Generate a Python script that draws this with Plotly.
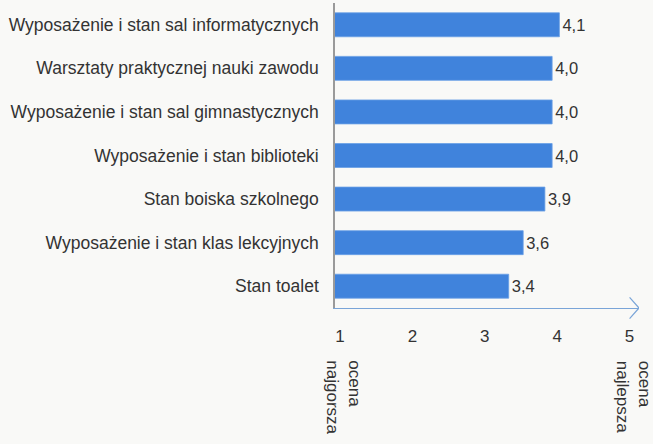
import plotly.graph_objects as go

categories = [
    "Wyposażenie i stan sal informatycznych",
    "Warsztaty praktycznej nauki zawodu",
    "Wyposażenie i stan sal gimnastycznych",
    "Wyposażenie i stan biblioteki",
    "Stan boiska szkolnego",
    "Wyposażenie i stan klas lekcyjnych",
    "Stan toalet",
]
values = [4.1, 4.0, 4.0, 4.0, 3.9, 3.6, 3.4]
tick_vals = [1, 2, 3, 4, 5]
tick_text = ["1", "2", "3", "4", "5"]
end_labels = {1: "ocena<br>najgorsza", 5: "ocena<br>najlepsza"}

FONT = "Liberation Sans, Arial, sans-serif"
TXT = "#333333"
BAR = "#4083dc"

fig = go.Figure()
fig.add_trace(go.Bar(
    x=values, y=categories, orientation="h",
    marker=dict(color=BAR, line=dict(color="#6a9fe6", width=0.8)),
    width=0.55,
    texttemplate="%{x:.1f}", textposition="outside",
    textfont=dict(family=FONT, size=16.5, color=TXT),
    cliponaxis=False,
))

for v, t in end_labels.items():
    fig.add_annotation(
        x=v, y=-0.165, xref="x", yref="paper", text=t, textangle=90,
        showarrow=False, xanchor="center", yanchor="top", align="left",
        xshift=9, font=dict(family=FONT, size=17, color=TXT),
    )

# arrow head at end of x axis line
fig.add_shape(
    type="path", xref="x", yref="paper",
    path="M 5.07 0.035 L 5.2 0 L 5.07 -0.035",
    line=dict(color="#7aa5d8", width=1.2),
)

fig.update_layout(
    width=653, height=444,
    margin=dict(l=335, r=14, t=3, b=136),
    paper_bgcolor="#f9f9f7", plot_bgcolor="#f9f9f7",
    separators=", ",
    showlegend=False,
    bargap=0.45,
    font=dict(family=FONT, size=15, color=TXT),
    xaxis=dict(
        range=[1, 5.2], tickvals=tick_vals, ticktext=tick_text,
        showgrid=False, zeroline=False, showline=True,
        linecolor="#7aa5d8", linewidth=1.2,
        ticks="outside", ticklen=0, ticklabelstandoff=12, ticklabelshift=5,
        tickfont=dict(family=FONT, size=17, color=TXT),
    ),
    yaxis=dict(
        categoryorder="array", categoryarray=categories[::-1],
        showgrid=False, zeroline=False, showline=True,
        linecolor="#9a9a9a", linewidth=1.5,
        ticks="outside", ticklen=0, ticklabelstandoff=11,
        tickfont=dict(family=FONT, size=17.5, color=TXT),
    ),
)

fig.write_html("out.html")
